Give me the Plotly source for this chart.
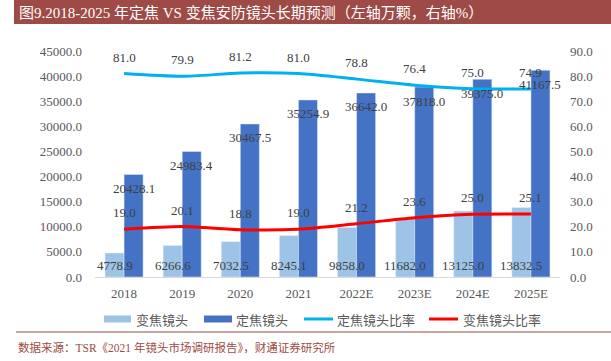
import plotly.graph_objects as go

years = ["2018", "2019", "2020", "2021", "2022E", "2023E", "2024E", "2025E"]
zoom_lens = [4778.9, 6266.6, 7032.5, 8245.1, 9858.0, 11682.0, 13125.0, 13832.5]
fixed_lens = [20428.1, 24983.4, 30467.5, 35254.9, 36642.0, 37818.0, 39375.0, 41167.5]
fixed_ratio = [81.0, 79.9, 81.2, 81.0, 78.8, 76.4, 75.0, 74.9]
zoom_ratio = [19.0, 20.1, 18.8, 19.0, 21.2, 23.6, 25.0, 25.1]

W, H = 611, 361
L, R, T, B = 95, 560, 51, 277

def px(x):
    return (x - L) / (R - L)

def py(y):
    return (B - y) / (B - T)

LIGHT = "#9DC3E6"
DARK = "#4472C4"
CYAN = "#00B0F0"
RED = "#FF0000"
BRICK = "#9E4A46"
SERIF = "Liberation Serif, Times New Roman, serif"
CJK = "Noto Sans CJK SC, sans-serif"
MIX = "Liberation Serif, Noto Sans CJK SC, serif"

fig = go.Figure()
fig.add_trace(go.Bar(x=years, y=zoom_lens, name="变焦镜头", marker_color=LIGHT))
fig.add_trace(go.Bar(x=years, y=fixed_lens, name="定焦镜头", marker_color=DARK))
fig.add_trace(go.Scatter(x=years, y=fixed_ratio, name="定焦镜头比率", mode="lines",
                         line=dict(color=CYAN, width=3, shape="spline", smoothing=0.7), yaxis="y2"))
fig.add_trace(go.Scatter(x=years, y=zoom_ratio, name="变焦镜头比率", mode="lines",
                         line=dict(color=RED, width=3, shape="spline", smoothing=0.7), yaxis="y2"))

ann = []
lab_font = dict(family=SERIF, size=13, color="#404040")
for i, yr in enumerate(years):
    ann.append(dict(x=i, y=0, xref="x", yref="y", text=f"{zoom_lens[i]:.1f}", showarrow=False,
                    xshift=-9.5, yshift=12, font=lab_font))
    ann.append(dict(x=i, y=fixed_lens[i], xref="x", yref="y", text=f"{fixed_lens[i]:.1f}", showarrow=False,
                    xshift=9.5, yshift=-14, font=lab_font))
    ann.append(dict(x=i, y=fixed_ratio[i], xref="x", yref="y2", text=f"{fixed_ratio[i]:.1f}", showarrow=False,
                    yshift=16.5, font=lab_font))
    ann.append(dict(x=i, y=zoom_ratio[i], xref="x", yref="y2", text=f"{zoom_ratio[i]:.1f}", showarrow=False,
                    yshift=16.5, font=lab_font))

# title
ann.append(dict(x=px(17), y=py(12), xref="paper", yref="paper", xanchor="left", yanchor="middle",
                text="图9.2018-2025 年定焦 VS 变焦安防镜头长期预测（左轴万颗，右轴%）", showarrow=False,
                font=dict(family=MIX, size=15, color="#FFFFFF")))
# source
ann.append(dict(x=px(16), y=py(347), xref="paper", yref="paper", xanchor="left", yanchor="middle",
                text="数据来源：TSR《2021 年镜头市场调研报告》，财通证券研究所", showarrow=False,
                font=dict(family=MIX, size=11.5, color=BRICK)))

shapes = [
    dict(type="rect", xref="paper", yref="paper", x0=px(14), x1=px(611), y0=py(24), y1=py(0),
         fillcolor=BRICK, line=dict(width=0), layer="below"),
    dict(type="line", xref="paper", yref="paper", x0=px(16), x1=px(611), y0=py(332), y1=py(332),
         line=dict(color=BRICK, width=1)),
]

# custom legend
leg_y = 319
leg_items = [
    ("bar", LIGHT, 104, 131, 134, "变焦镜头"),
    ("bar", DARK, 204, 232, 234, "定焦镜头"),
    ("line", CYAN, 304, 333, 335, "定焦镜头比率"),
    ("line", RED, 429, 458, 461, "变焦镜头比率"),
]
for kind, col, a, b, tx, label in leg_items:
    if kind == "bar":
        shapes.append(dict(type="rect", xref="paper", yref="paper", x0=px(a), x1=px(b),
                           y0=py(leg_y + 3.5), y1=py(leg_y - 3.5), fillcolor=col, line=dict(width=0)))
    else:
        shapes.append(dict(type="line", xref="paper", yref="paper", x0=px(a), x1=px(b),
                           y0=py(leg_y), y1=py(leg_y), line=dict(color=col, width=3)))
    ann.append(dict(x=px(tx), y=py(leg_y), xref="paper", yref="paper", xanchor="left", yanchor="middle",
                    text=label, showarrow=False, font=dict(family=CJK, size=13, color="#595959")))

tick_font = dict(family=SERIF, size=13, color="#595959")
fig.update_layout(
    width=W, height=H,
    margin=dict(l=L, r=W - R, t=T, b=H - B, pad=0),
    paper_bgcolor="white", plot_bgcolor="white",
    showlegend=False,
    barmode="group", bargap=0.345, bargroupgap=0,
    xaxis=dict(type="category", range=[-0.5, len(years) - 0.5], showgrid=False, showline=True,
               linecolor="#D9D9D9", linewidth=1, ticks="",
               tickfont=tick_font, ticklabelstandoff=4, automargin=False),
    yaxis=dict(range=[0, 45000], dtick=5000, tickformat=".1f", showgrid=False, zeroline=False,
               ticks="", tickfont=tick_font, ticklabelstandoff=12, automargin=False),
    yaxis2=dict(range=[0, 90], dtick=10, tickformat=".1f", showgrid=False, zeroline=False,
                overlaying="y", side="right", ticks="", tickfont=tick_font, ticklabelstandoff=9,
                automargin=False),
    annotations=ann,
    shapes=shapes,
)

fig.write_html("out.html", config={"displayModeBar": False},
               post_script="document.body.style.margin='0';document.body.style.overflow='hidden';")
